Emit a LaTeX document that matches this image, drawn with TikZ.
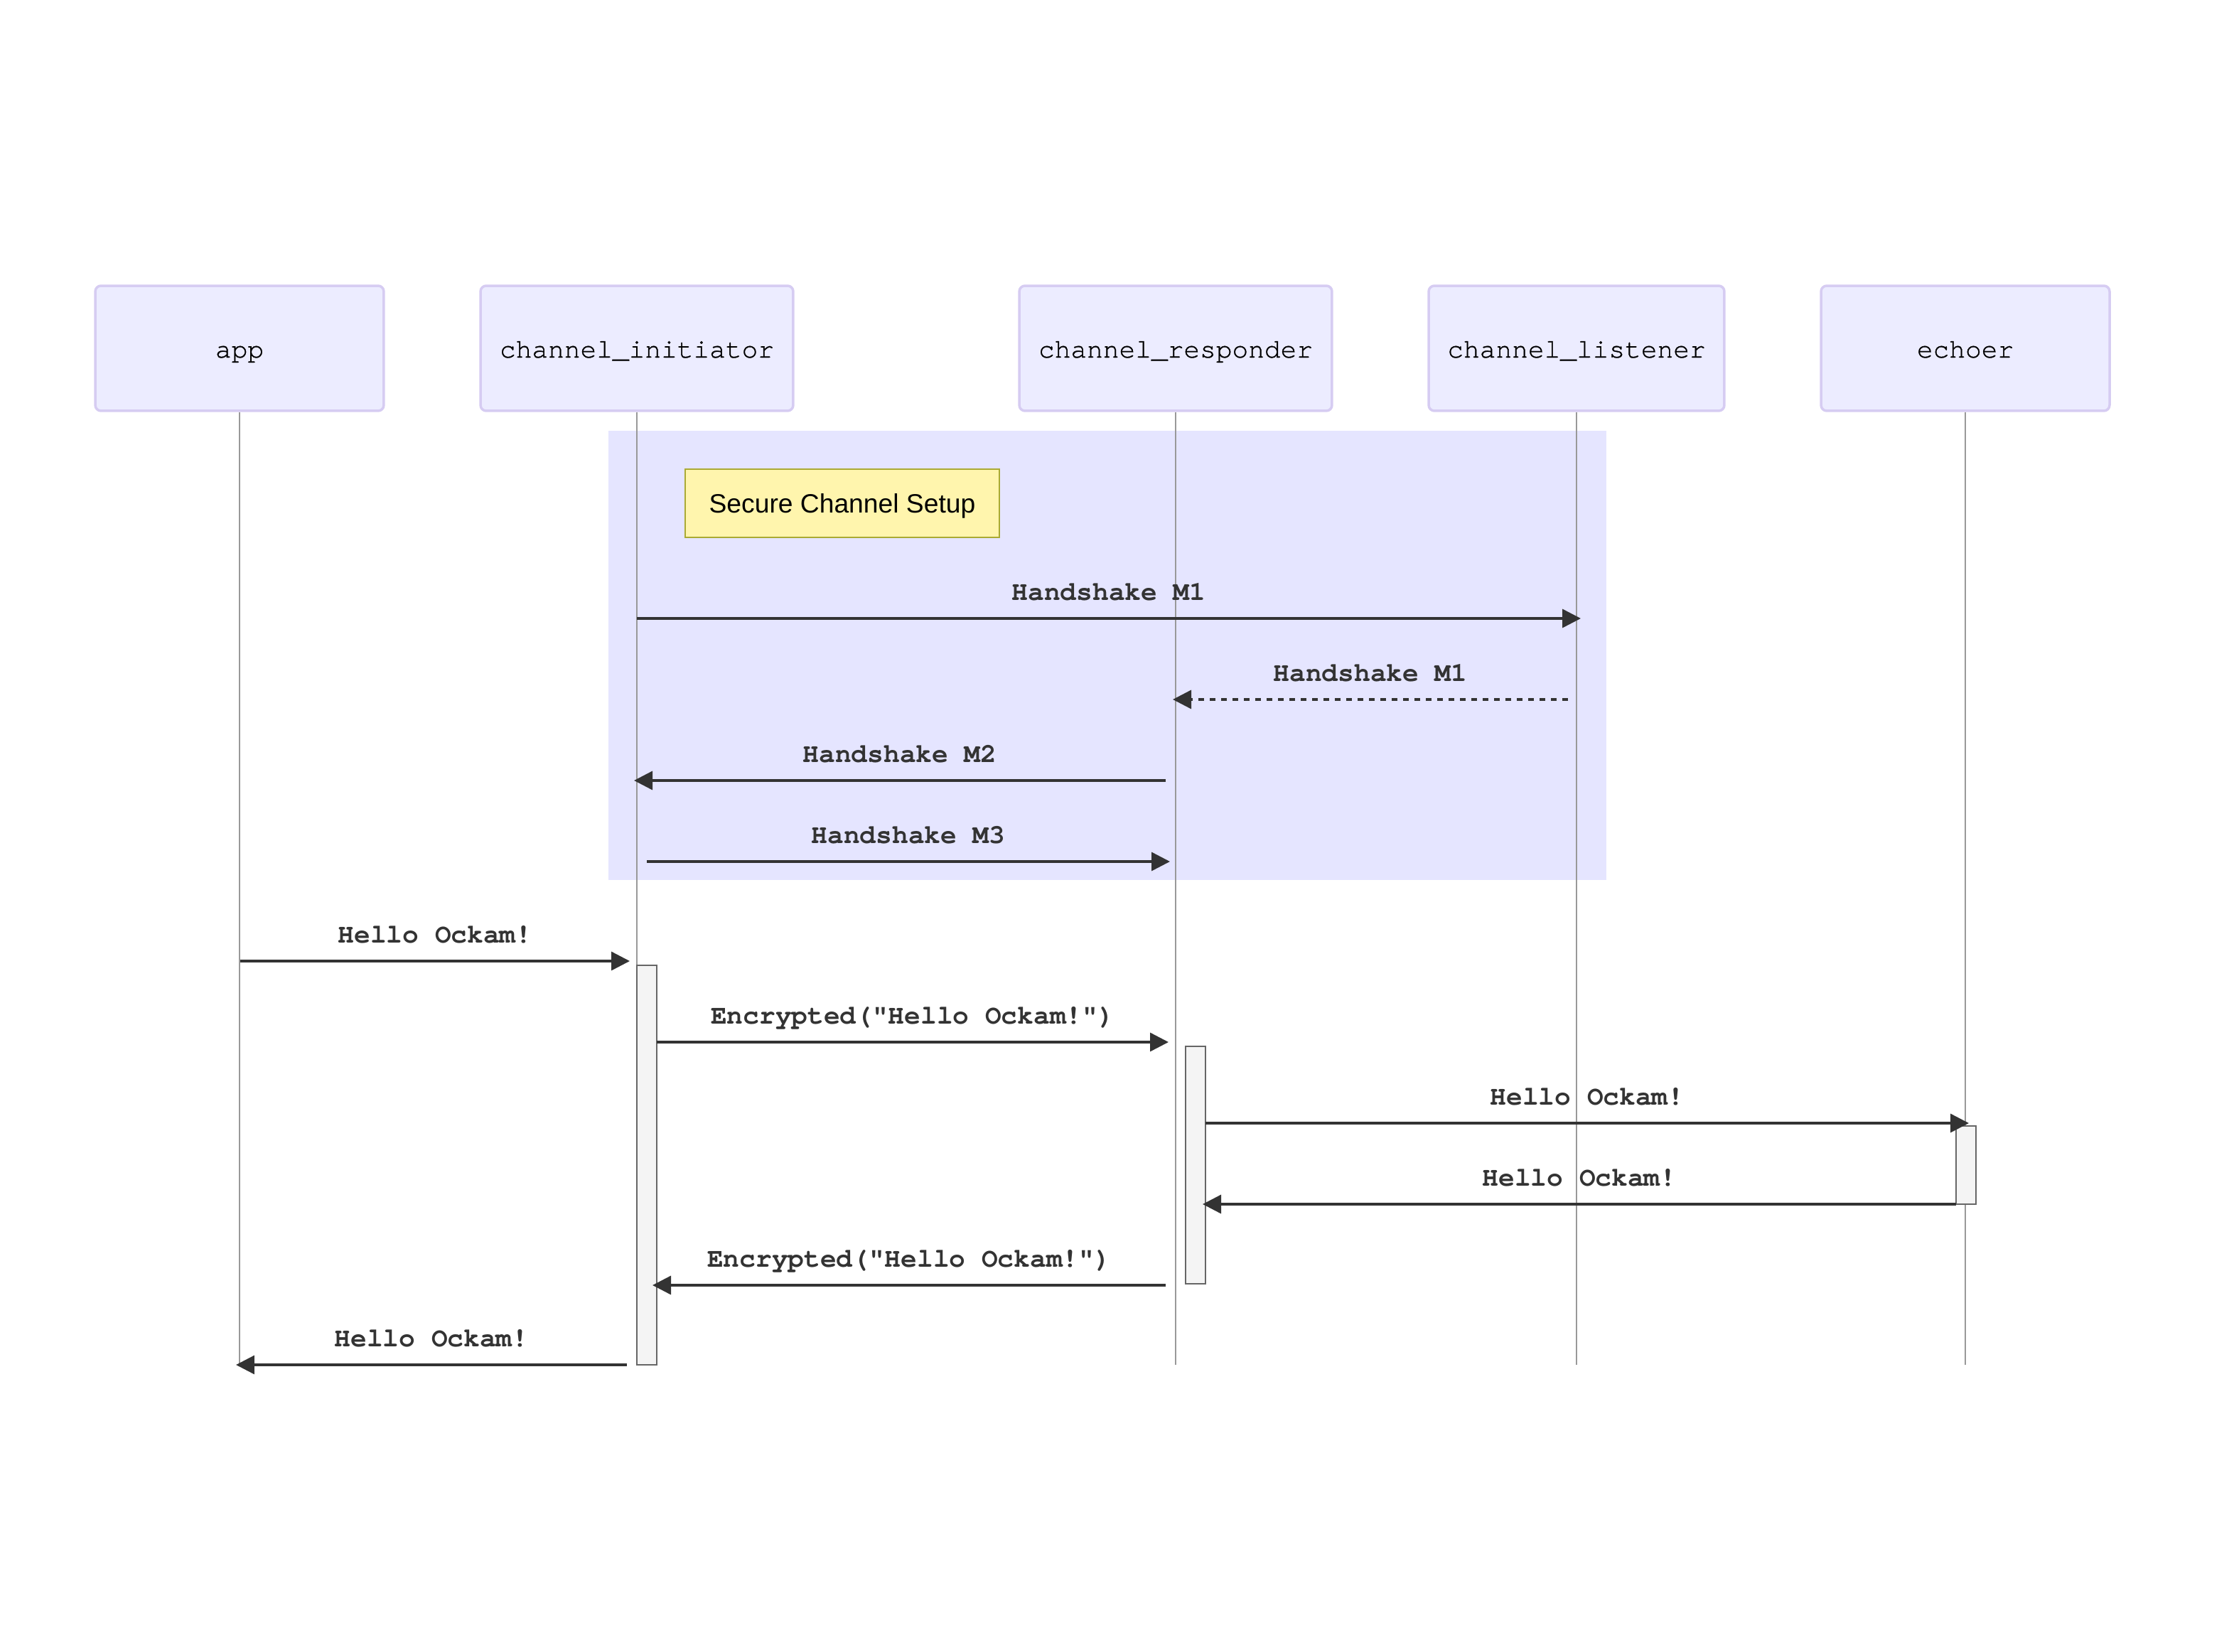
\documentclass[tikz,border=0pt]{standalone}
\usepackage{fontspec}
\setmonofont{TeX Gyre Cursor}
\newfontfamily\actorfont{TeX Gyre Cursor}[FakeBold=0.8]
\setsansfont{Liberation Sans}
\usetikzlibrary{arrows.meta}
\definecolor{actfill}{HTML}{ECECFF}
\definecolor{actline}{HTML}{D6CCF2}
\definecolor{lifeln}{HTML}{999999}
\definecolor{msgc}{HTML}{333333}
\definecolor{rectc}{RGB}{229,229,255}
\definecolor{notef}{HTML}{FFF5AD}
\definecolor{notel}{HTML}{AAAA33}
\definecolor{actvf}{HTML}{F4F4F4}
\definecolor{actvl}{HTML}{666666}
\begin{document}
\begin{tikzpicture}[x=0.02cm,y=-0.02cm,
  actor/.style={draw=actline, fill=actfill, line width=0.035cm, rounded corners=0.08cm,
    minimum height=1.76cm, inner sep=0pt,
    font=\actorfont\fontsize{10.77}{13}\selectfont, text height=7.4pt, text depth=0pt},
  life/.style={draw=lifeln, line width=0.4pt},
  msg/.style={draw=msgc, line width=0.035cm, -{Triangle[length=0.26cm,width=0.26cm]}},
  dmsg/.style={msg, dash pattern=on 0.08cm off 0.08cm},
  lbl/.style={anchor=base, yshift=0.26cm, text=msgc, inner sep=0pt,
    font=\ttfamily\bfseries\fontsize{10.77}{13}\selectfont},
  actv/.style={draw=actvl, fill=actvf, line width=0.027cm, minimum width=0.28cm, inner sep=0pt},
  notebox/.style={draw=notel, fill=notef, line width=0.027cm, minimum width=4.42cm,
    minimum height=0.96cm, inner sep=0pt,
    font=\sffamily\fontsize{10.6}{13}\selectfont, text height=7.6pt, text depth=0pt}
]
\fill[white] (0,0) rectangle (1568,1162);
\useasboundingbox (0,0) rectangle (1568,1162);

% highlighted region
\fill[rectc] (428,303) rectangle (1130,619);

% participants
\node[actor, minimum width=4.06cm] (app) at (168.5,245) {app};
\node[actor, minimum width=4.4cm]  (ini) at (448,245) {channel\_initiator};
\node[actor, minimum width=4.4cm]  (res) at (827,245) {channel\_responder};
\node[actor, minimum width=4.16cm] (lis) at (1109,245) {channel\_listener};
\node[actor, minimum width=4.06cm] (ech) at (1382.5,245) {echoer};

% lifelines
\coordinate (appE) at (168.5,960);
\coordinate (iniE) at (448,960);
\coordinate (resE) at (827,960);
\coordinate (lisE) at (1109,960);
\coordinate (echE) at (1382.5,960);
\draw[life] (app.south) -- (appE);
\draw[life] (ini.south) -- (iniE);
\draw[life] (res.south) -- (resE);
\draw[life] (lis.south) -- (lisE);
\draw[life] (ech.south) -- (echE);

% note
\node[notebox] (note) at (592.5,354) {Secure Channel Setup};

% activations
\node[actv, minimum height=5.62cm] (aI) at (455,819.5) {};
\node[actv, minimum height=3.34cm] (aR) at (841,819.5) {};
\node[actv, minimum height=1.1cm]  (aE) at (1383,819.5) {};

% message end points
\coordinate (m1a) at (448,435);   \coordinate (m1b) at (1112,435);
\coordinate (m2a) at (1103,492);  \coordinate (m2b) at (825,492);
\coordinate (m3a) at (820,549);   \coordinate (m3b) at (446,549);
\coordinate (m4a) at (455,606);   \coordinate (m4b) at (823,606);
\coordinate (m5a) at (169,676);   \coordinate (m5b) at (443,676);
\coordinate (m6a) at (462,733);   \coordinate (m6b) at (822,733);
\coordinate (m7a) at (848,790);   \coordinate (m7b) at (1385,790);
\coordinate (m8a) at (1376,847);  \coordinate (m8b) at (846,847);
\coordinate (m9a) at (820,904);   \coordinate (m9b) at (459,904);
\coordinate (m10a) at (441,960);  \coordinate (m10b) at (166,960);

\draw[msg]  (m1a) -- node[lbl] {Handshake M1} (m1b);
\draw[dmsg] (m2a) -- node[lbl] {Handshake M1} (m2b);
\draw[msg]  (m3a) -- node[lbl] {Handshake M2} (m3b);
\draw[msg]  (m4a) -- node[lbl] {Handshake M3} (m4b);
\draw[msg]  (m5a) -- node[lbl] {Hello Ockam!} (m5b);
\draw[msg]  (m6a) -- node[lbl] {Encrypted("Hello Ockam!")} (m6b);
\draw[msg]  (m7a) -- node[lbl] {Hello Ockam!} (m7b);
\draw[msg]  (m8a) -- node[lbl] {Hello Ockam!} (m8b);
\draw[msg]  (m9a) -- node[lbl] {Encrypted("Hello Ockam!")} (m9b);
\draw[msg]  (m10a) -- node[lbl] {Hello Ockam!} (m10b);
\end{tikzpicture}
\end{document}
